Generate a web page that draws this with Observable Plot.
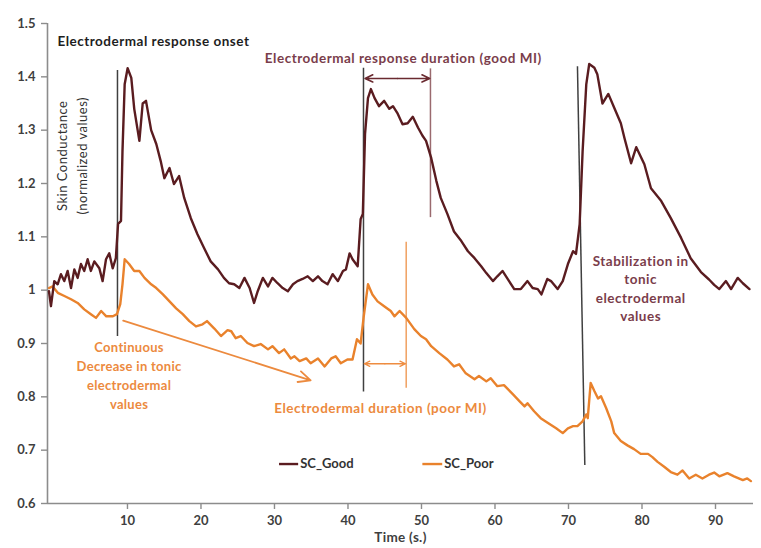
<!DOCTYPE html>
<html><head><meta charset="utf-8">
<script src="https://cdn.jsdelivr.net/npm/d3@7"></script>
<script src="https://cdn.jsdelivr.net/npm/@observablehq/plot@0.6"></script>
<style>
body{margin:0;background:#fff;}
#chart svg{display:block;}
.wide text{letter-spacing:0.5px;}
.mid text{letter-spacing:0.3px;}
</style>
</head><body><div id="chart"></div>
<script>
// ---- data ----
const timeGood = [0,0.27,0.72,1.18,1.63,2.08,2.54,3.0,3.45,3.9,4.35,4.8,5.26,5.7,6.17,6.85,7.3,7.76,8.2,8.67,9.1,9.4,9.8,10.0,10.3,10.7,11.2,11.6,12.3,12.75,13.2,13.9,14.6,15.2,15.7,16.4,17.0,17.7,18.4,19.3,20.2,21.1,22.0,23.0,23.8,24.5,25.2,25.9,26.6,27.3,27.9,28.4,29.1,29.8,30.4,31.1,31.8,32.5,33.2,33.8,34.5,35.2,35.9,36.6,37.2,37.9,38.6,39.3,40.0,40.4,40.9,41.3,42.0,42.4,42.7,43.0,43.4,43.8,44.3,44.9,45.6,46.3,46.8,47.4,48.1,48.8,49.5,50.2,50.8,51.3,52.0,52.7,53.3,54.2,55.1,56.1,57.0,57.9,58.8,59.5,60.4,61.0,61.7,62.4,63.3,64.2,65.1,65.8,66.5,67.0,67.8,68.3,69.2,69.9,70.6,71.3,71.7,72.2,72.6,73.1,73.5,74.2,74.6,75.3,76.1,76.9,77.8,78.3,79.2,79.9,81.0,81.9,83.3,84.6,86.0,87.3,88.7,89.8,90.5,91.2,92.1,92.8,93.7,94.4,95.3];
const scGood = [0.998,0.97,1.017,1.011,1.03,1.017,1.036,1.004,1.039,1.023,1.049,1.036,1.058,1.036,1.054,1.041,1.017,1.058,1.069,1.041,1.06,1.124,1.13,1.26,1.386,1.416,1.398,1.34,1.28,1.35,1.355,1.30,1.274,1.242,1.21,1.229,1.199,1.214,1.173,1.135,1.105,1.079,1.054,1.039,1.023,1.013,1.011,1.004,1.023,1.004,0.976,0.998,1.023,1.007,1.023,1.013,1.004,0.998,1.011,1.017,1.021,1.026,1.017,1.026,1.017,1.011,1.03,1.017,1.036,1.039,1.069,1.058,1.045,1.133,1.143,1.293,1.36,1.377,1.36,1.345,1.355,1.34,1.345,1.332,1.311,1.313,1.325,1.305,1.29,1.28,1.248,1.205,1.173,1.143,1.11,1.092,1.073,1.06,1.045,1.032,1.017,1.026,1.036,1.021,1.002,1.002,1.017,1.004,1.002,0.992,1.021,1.017,1.002,1.017,1.049,1.073,1.068,1.124,1.26,1.386,1.424,1.417,1.405,1.35,1.368,1.342,1.313,1.285,1.238,1.268,1.236,1.191,1.167,1.135,1.098,1.06,1.034,1.02,1.01,1.002,1.017,1.002,1.023,1.013,1.002];
const timePoor = [0,0.5,1.2,2.1,3.0,3.9,4.8,5.7,6.4,7.1,7.8,8.7,9.25,9.7,10.0,10.3,10.9,11.6,12.3,13.0,13.9,14.6,15.5,16.4,17.3,18.2,19.1,20.0,20.9,21.5,22.5,23.4,24.3,24.8,25.4,26.1,27.0,27.9,28.8,29.8,30.4,31.3,32.0,32.9,33.4,34.1,35.0,35.6,36.6,37.5,38.4,39.0,39.7,40.6,41.3,41.9,42.4,42.8,43.4,44.0,44.7,45.6,46.5,47.0,47.7,48.6,49.7,50.6,51.3,52.0,53.1,54.2,55.1,55.8,56.7,57.9,58.5,59.5,60.1,61.0,61.9,63.1,64.0,64.7,65.1,66.0,66.9,68.1,69.0,69.9,70.6,71.3,71.9,72.6,73.1,73.3,73.7,74.2,74.7,75.1,75.8,76.5,76.9,77.8,78.7,79.6,80.5,81.5,82.1,82.8,83.7,84.6,85.5,86.2,87.1,88.0,88.9,89.8,90.5,91.2,92.3,93.2,94.4,95.0,95.5];
const scPoor = [1.004,1.007,0.995,0.989,0.983,0.976,0.964,0.955,0.948,0.961,0.951,0.951,0.955,0.974,1.011,1.058,1.049,1.036,1.036,1.023,1.011,1.004,0.992,0.979,0.966,0.955,0.942,0.932,0.936,0.942,0.928,0.914,0.925,0.923,0.91,0.914,0.901,0.895,0.899,0.889,0.895,0.882,0.889,0.872,0.876,0.867,0.872,0.863,0.872,0.857,0.872,0.876,0.863,0.87,0.87,0.908,0.9,0.948,1.011,0.992,0.979,0.97,0.961,0.951,0.961,0.948,0.927,0.914,0.908,0.895,0.882,0.87,0.857,0.861,0.844,0.833,0.839,0.829,0.835,0.82,0.822,0.805,0.792,0.782,0.788,0.773,0.76,0.749,0.741,0.732,0.741,0.745,0.745,0.754,0.767,0.76,0.826,0.811,0.797,0.801,0.779,0.754,0.732,0.717,0.709,0.702,0.693,0.693,0.687,0.678,0.669,0.659,0.654,0.662,0.647,0.654,0.647,0.654,0.658,0.651,0.657,0.651,0.644,0.647,0.642];

const xTicks = [10,20,30,40,50,60,70,80,90];
const yTicks = [0.6,0.7,0.8,0.9,1.0,1.1,1.2,1.3,1.4,1.5];
const xDomain = [-0.2, 95.85];
const yDomain = [0.6, 1.5];

// annotation anchors (data coordinates)
const onsetLines = [
  {x1: 9.32, y1: 1.413, x2: 9.32, y2: 0.914},
  {x1: 42.79, y1: 1.417, x2: 42.79, y2: 0.81},
  {x1: 71.9, y1: 1.42, x2: 72.9, y2: 0.672}
];
const goodEnd = {x: 51.9, y1: 1.415, y2: 1.136};
const goodArrow = {x1: 43.0, x2: 51.8, y: 1.397};
const poorEnd = {x: 48.6, y1: 1.09, y2: 0.816};
const poorArrow = {x1: 42.9, x2: 48.5, y: 0.862};
const trendArrow = {x1: 10.1, y1: 0.943, x2: 35.6, y2: 0.831};

const onsetLabel = {x: 1.15, y: 1.466, text: "Electrodermal response onset"};
const bigLabels = [
  {x: 48.2, y: 1.437, text: "Electrodermal response duration (good MI)", color: "#7a3d4b"},
  {x: 45.1, y: 0.78, text: "Electrodermal duration (poor MI)", color: "#ec8a3e"},
  {x: 80.5, y: 1.005, text: "Stabilization in\ntonic\nelectrodermal\nvalues", color: "#7a3d4b"}
];
const smallLabels = [
  {x: 10.9, y: 0.842, text: "Continuous\nDecrease in tonic\nelectrodermal\nvalues", color: "#ec8a3e"}
];
const legendItems = [
  {name: "SC_Good", color: "#5a1c20", x1: 31.3, x2: 33.9, y: 0.674},
  {name: "SC_Poor", color: "#e9822c", x1: 50.8, x2: 53.5, y: 0.674}
];

const good = timeGood.map((t, i) => ({t, v: scGood[i]}));
const poor = timePoor.map((t, i) => ({t, v: scPoor[i]}));
const axisColor = "#8c8c8c";
const tickText = "#3f3f3f";

const plot = Plot.plot({
  width: 761,
  height: 548,
  marginLeft: 47,
  marginRight: 8,
  marginTop: 23,
  marginBottom: 45,
  style: {fontFamily: "Lato, 'Open Sans', sans-serif", fontSize: "12px", background: "#fff"},
  x: {domain: xDomain},
  y: {domain: yDomain},
  marks: [
    Plot.ruleX([xDomain[0]], {stroke: axisColor, strokeWidth: 1.6}),
    Plot.ruleY([yDomain[0]], {stroke: axisColor, strokeWidth: 1.6}),
    Plot.axisY({ticks: yTicks, tickSize: 6, tickPadding: 6, stroke: axisColor, strokeWidth: 1.4, fill: tickText, fontWeight: "bold", fontSize: 13, tickFormat: d => d === 1 ? "1" : d.toFixed(1), label: null}),
    Plot.axisX({ticks: xTicks, tickSize: 6, tickPadding: 6, stroke: axisColor, strokeWidth: 1.4, fill: tickText, fontWeight: "bold", fontSize: 13, dx: 5, tickFormat: d => String(d), label: null}),
    Plot.text(["Time (s.)"], {frameAnchor: "bottom", dy: 38, fill: tickText, fontWeight: "bold", fontSize: 13.5, className: "mid"}),
    Plot.text(["Skin Conductance\n(normalized values)"], {x: 2.9, y: 1.252, rotate: -90, lineHeight: 1.54, fill: "#333", fontSize: 13, className: "wide"}),
    // onset lines
    Plot.link(onsetLines, {x1: "x1", y1: "y1", x2: "x2", y2: "y2", stroke: "#404040", strokeWidth: 1.5}),
    // good MI duration
    Plot.ruleX([goodEnd], {x: "x", y1: "y1", y2: "y2", stroke: "#9a6a6e", strokeWidth: 1.5}),
    Plot.arrow([goodArrow], {x1: d => (d.x1 + d.x2) / 2, x2: "x1", y1: "y", y2: "y", stroke: "#6a2a30", strokeWidth: 1.6, headLength: 8, headAngle: 50}),
    Plot.arrow([goodArrow], {x1: d => (d.x1 + d.x2) / 2, x2: "x2", y1: "y", y2: "y", stroke: "#6a2a30", strokeWidth: 1.6, headLength: 8, headAngle: 50}),
    // poor MI duration
    Plot.ruleX([poorEnd], {x: "x", y1: "y1", y2: "y2", stroke: "#f0a060", strokeWidth: 1.5}),
    Plot.arrow([poorArrow], {x1: d => (d.x1 + d.x2) / 2, x2: "x1", y1: "y", y2: "y", stroke: "#ee8c40", strokeWidth: 1.3, headLength: 7, headAngle: 50}),
    Plot.arrow([poorArrow], {x1: d => (d.x1 + d.x2) / 2, x2: "x2", y1: "y", y2: "y", stroke: "#ee8c40", strokeWidth: 1.3, headLength: 7, headAngle: 50}),
    // trend arrow
    Plot.arrow([trendArrow], {x1: "x1", y1: "y1", x2: "x2", y2: "y2", stroke: "#ec8a3e", strokeWidth: 1.8, headLength: 11, headAngle: 50}),
    // data lines
    Plot.line(poor, {x: "t", y: "v", stroke: "#e9822c", strokeWidth: 2.4}),
    Plot.line(good, {x: "t", y: "v", stroke: "#5a1c20", strokeWidth: 2.4}),
    // text labels
    Plot.text([onsetLabel], {x: "x", y: "y", text: "text", fill: "#1e1e1e", textAnchor: "start", fontWeight: "bold", fontSize: 13.5, className: "wide"}),
    Plot.text(bigLabels, {x: "x", y: "y", text: "text", fill: "color", textAnchor: "middle", fontWeight: "bold", fontSize: 13.5, lineHeight: 1.38, className: "wide"}),
    Plot.text(smallLabels, {x: "x", y: "y", text: "text", fill: "color", textAnchor: "middle", fontWeight: "bold", fontSize: 13, lineHeight: 1.46, className: "mid"}),
    // legend
    Plot.link(legendItems, {x1: "x1", x2: "x2", y1: "y", y2: "y", stroke: "color", strokeWidth: 2.4}),
    Plot.text(legendItems, {x: "x2", y: "y", text: "name", dx: 2, textAnchor: "start", fill: "#333", fontWeight: "bold", fontSize: 13})
  ]
});
document.getElementById("chart").appendChild(plot);
</script>
</body></html>
